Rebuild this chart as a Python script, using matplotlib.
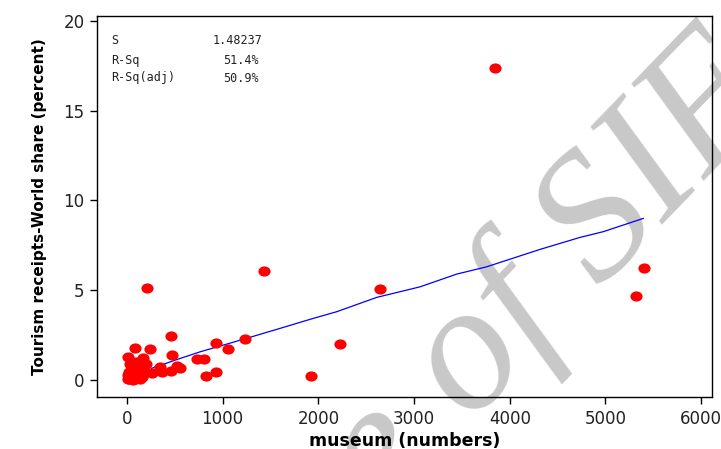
import numpy as np
import matplotlib.pyplot as plt
from matplotlib.path import Path
from matplotlib.transforms import Affine2D

# museum counts vs tourism receipts world share
museums = [3845, 5402, 5319, 1432, 2647, 206, 2226, 1923, 1233, 1060,
           928, 928, 825, 735, 800, 456, 474, 84, 236, 14,
           170, 519, 554, 460, 345, 362, 258, 153, 14, 60,
           136, 30, 60, 100, 120, 20, 80, 150, 190, 40,
           110, 200, 170, 90, 50, 10, 25, 70]
receipts = [17.4, 6.23, 4.66, 6.06, 5.04, 5.09, 1.98, 0.20, 2.26, 1.69,
            2.05, 0.42, 0.20, 1.13, 1.15, 2.43, 1.40, 1.76, 1.69, 1.24,
            1.18, 0.78, 0.66, 0.48, 0.72, 0.44, 0.35, 0.12, 0.02, 0.0,
            0.01, 0.9, 0.6, 0.8, 0.5, 0.45, 0.3, 0.75, 0.5, 0.15,
            0.1, 0.9, 0.3, 1.0, 0.7, 0.25, 0.05, 0.02]

# fitted values
fit_x = [258, 554, 763, 1215, 1599, 1947, 2191, 2609, 3062, 3445,
         3759, 4316, 4734, 4977, 5395]
fit_y = [0.63, 1.18, 1.55, 2.25, 2.86, 3.42, 3.79, 4.59, 5.18, 5.89,
         6.30, 7.27, 7.94, 8.26, 9.00]

stats_names = ['S', 'R-Sq', 'R-Sq(adj)']
stats_vals = ['1.48237', '51.4%', '50.9%']

fig = plt.figure(figsize=(7.21, 4.49), dpi=100)
W, H = 721, 449
ax = fig.add_axes([97 / W, 52 / H, 615 / W, 381 / H])
ax.set_zorder(1)
ax.patch.set_alpha(0)

# watermark behind the plot
ang = 46
u = np.array([np.cos(np.radians(ang)), np.sin(np.radians(ang))])
wm_x, wm_y = 470, 424
wm_kw = dict(fontsize=131, family='Liberation Serif', style='italic', color='#c8c8c8',
             rotation=ang, rotation_mode='anchor', va='baseline', zorder=-1)
fig.text(wm_x / W, 1 - wm_y / H, 'of SIF', ha='left', **wm_kw)
ex, ey = wm_x - 46 * u[0], wm_y + 46 * u[1]
fig.text(ex / W, 1 - ey / H, 'e', ha='right', **wm_kw)

ellipse = Path.unit_circle().transformed(Affine2D().scale(1.2, 1.0))
ax.plot(museums, receipts, linestyle='none', marker=ellipse, markersize=8.8,
        markerfacecolor='#ff0000', markeredgewidth=0, zorder=3)
ax.plot(fit_x, fit_y, color='#0000ff', lw=0.9, zorder=2)

ax.set_xlim(-313, 6113)
ax.set_ylim(-0.97, 20.3)
ax.set_xticks([0, 1000, 2000, 3000, 4000, 5000, 6000])
ax.set_yticks([0, 5, 10, 15, 20])
ax.tick_params(direction='out', length=5, width=1, colors='black', labelsize=12, pad=4,
               labelcolor='#222222')
for sp in ax.spines.values():
    sp.set_linewidth(1)

ax.set_xlabel('museum (numbers)', fontsize=12.5, fontweight='bold', labelpad=3)
ax.set_ylabel('Tourism receipts-World share (percent)', fontsize=11, fontweight='bold',
              labelpad=12)

rows_y = [41, 60, 78]
val_x = [213, 223, 223]
for name, val, y, vx in zip(stats_names, stats_vals, rows_y, val_x):
    fig.text(111 / W, 1 - y / H, name, fontsize=8.5, family='DejaVu Sans Mono',
             va='center', color='#222222')
    fig.text(vx / W, 1 - y / H, val, fontsize=8.5, family='DejaVu Sans Mono',
             va='center', color='#222222')

fig.savefig('out.png', dpi=100)
